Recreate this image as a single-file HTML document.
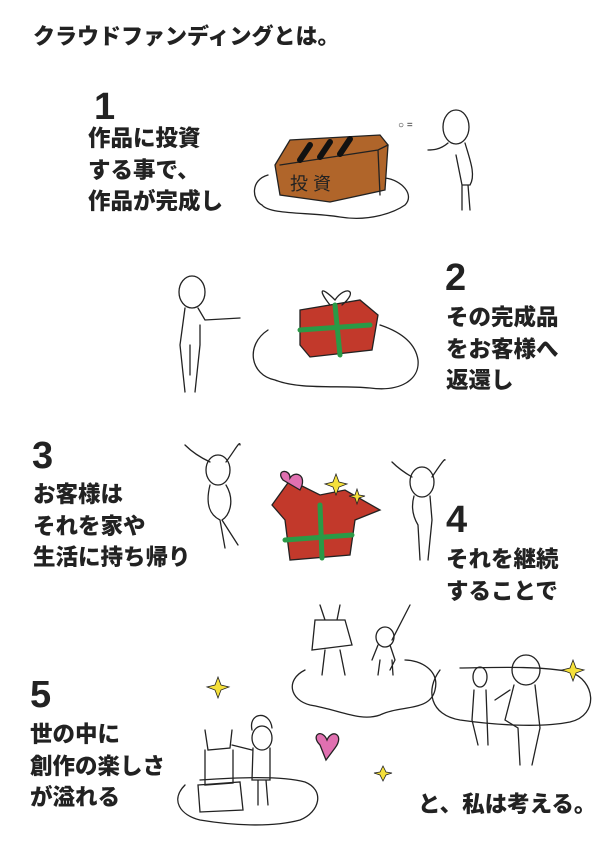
<!DOCTYPE html>
<html><head><meta charset="utf-8"><style>
body{margin:0;background:#fff;width:608px;height:859px;overflow:hidden;position:relative;font-family:"Liberation Sans","Noto Sans CJK JP",sans-serif;font-weight:bold;color:#222}
.t{position:absolute;font-size:22.5px;line-height:31.5px;white-space:nowrap;font-weight:900}
.n{position:absolute;font-size:38px;line-height:40px;font-weight:900;font-family:"Liberation Sans",sans-serif}
svg{position:absolute;left:0;top:0}
</style></head><body>
<svg width="608" height="859" fill="none" stroke="#222" stroke-width="1.3" stroke-linecap="round">
<path d="M268 175 C250 180 252 200 262 205 C270 215 310 212 340 217 C370 222 395 212 405 205 C415 195 402 180 385 178"/>
<path d="M275 165 L290 140 L380 135 L388 145 L385 190 L330 202 L280 195 Z" fill="#b0652a"/>
<path d="M280 165 L378 150 L388 145 M378 150 L380 195"/>
<path d="M300 160 l10 -15 M320 157 l10 -15 M340 154 l10 -15" stroke="#111" stroke-width="6"/>
<text x="290" y="190" font-size="18" fill="#222" stroke="none" font-weight="normal">投 資</text>
<ellipse cx="456" cy="127" rx="13" ry="17"/>
<path d="M448 143 C440 150 432 150 428 150 M465 143 C470 160 476 175 470 185 L462 185 L456 155 M462 185 L462 210 M468 185 L470 210"/>
<text x="398" y="128" font-size="10" stroke="none" fill="#222" font-weight="normal">○ =</text>
<path d="M268 330 C245 345 250 375 275 380 C300 390 340 385 370 388 C400 392 420 380 418 360 C415 340 395 330 380 325"/>
<path d="M300 310 L360 300 L378 315 L372 350 L310 357 L300 345 Z" fill="#c2392b"/>
<path d="M300 330 L370 325 M335 305 L340 355" stroke="#2a9a46" stroke-width="5"/>
<path d="M330 305 C318 290 320 285 335 300 C345 285 360 290 342 305"/>
<ellipse cx="192" cy="292" rx="13" ry="16"/>
<path d="M185 308 L180 345 L185 392 M198 308 L205 320 L240 318 M200 325 L200 345 L195 392 M190 345 L190 375"/>
<ellipse cx="218" cy="470" rx="12" ry="15"/>
<path d="M210 462 C195 455 188 448 185 445 M226 462 C235 450 240 440 240 445 M210 485 C205 505 210 515 220 520 L225 548 M226 485 C235 500 230 515 222 520 M222 520 L238 545"/>
<path d="M272 505 L290 480 L320 495 L345 490 L380 510 L355 520 L350 555 L290 560 L285 520 Z" fill="#c2392b"/>
<path d="M285 540 L352 535 M320 505 L322 558" stroke="#2a9a46" stroke-width="5"/>
<path d="M283 480 C275 470 290 468 290 478 C295 470 308 475 300 490 Z" fill="#e070b0" stroke="#222"/>
<path d="M333 482 l3 -8 l3 8 l8 2 l-8 3 l-3 8 l-3 -8 l-8 -3 Z M355 495 l2 -6 l2 6 l6 1 l-6 2 l-2 6 l-2 -6 l-6 -2Z" fill="#f5e03a" stroke-width="0.8"/>
<ellipse cx="422" cy="482" rx="12" ry="15"/>
<path d="M412 477 C400 470 395 465 392 462 M432 477 C440 465 445 458 445 460 M414 496 C410 510 415 520 418 525 L420 560 M430 496 L432 520 L428 560"/>
<path d="M305 670 C285 680 290 700 310 705 C340 710 360 722 380 715 C400 705 430 712 435 690 C440 670 420 660 405 660"/>
<path d="M320 605 L325 620 M340 605 L337 620 M315 620 L345 620 L352 645 L312 650 Z M325 650 L322 675 M340 650 L345 675"/>
<ellipse cx="385" cy="637" rx="9" ry="10"/>
<path d="M378 645 L372 660 M390 645 L395 660 L390 670 M380 660 L378 675 M392 660 L393 675 M392 640 L410 605"/>
<path d="M440 670 C425 690 430 715 460 720 C495 725 540 728 570 722 C600 715 595 680 570 672 C540 665 480 668 460 668"/>
<ellipse cx="480" cy="677" rx="7" ry="10"/>
<path d="M474 690 L472 720 L478 745 M486 690 L488 745"/>
<ellipse cx="526" cy="670" rx="14" ry="15"/>
<path d="M514 685 L505 720 L518 728 L520 765 M535 685 L540 728 L532 765 M495 700 L510 690"/>
<path d="M185 785 C170 800 180 815 200 820 C230 825 270 828 300 820 C320 812 325 790 305 782 C280 775 230 778 200 780"/>
<path d="M205 730 L208 750 L230 748 L232 730 M205 750 L205 785 L233 783 L233 750 M198 785 L240 782 L243 810 L200 812 Z"/>
<ellipse cx="262" cy="738" rx="10" ry="12"/>
<path d="M252 730 C248 712 270 710 272 728 M253 748 L252 780 L270 780 L270 748 M258 780 L258 805 M266 780 L268 805 M232 745 L252 750"/>
<path d="M320 745 C310 735 322 728 327 740 C332 728 345 735 335 748 L326 760 Z" fill="#e070b0"/>
<path d="M215 685 l3 -8 l3 8 l8 2 l-8 3 l-3 8 l-3 -8 l-8 -3Z M570 668 l3 -8 l3 8 l8 2 l-8 3 l-3 8 l-3 -8 l-8 -3Z M380 772 l3 -6 l3 6 l6 1 l-6 2 l-3 6 l-3 -6 l-6 -2Z" fill="#f5e03a" stroke-width="0.8"/>
</svg>
<div class="t" style="left:33px;top:21px;font-size:22px">クラウドファンディングとは。</div>
<div class="n" style="left:94px;top:87px">1</div>
<div class="t" style="left:88px;top:123px">作品に投資<br>する事で、<br>作品が完成し</div>
<div class="n" style="left:445px;top:258px">2</div>
<div class="t" style="left:446px;top:302px">その完成品<br>をお客様へ<br>返還し</div>
<div class="n" style="left:32px;top:436px">3</div>
<div class="t" style="left:33px;top:479px">お客様は<br>それを家や<br>生活に持ち帰り</div>
<div class="n" style="left:446px;top:500px">4</div>
<div class="t" style="left:446px;top:544px">それを継続<br>することで</div>
<div class="n" style="left:30px;top:675px">5</div>
<div class="t" style="left:30px;top:719px">世の中に<br>創作の楽しさ<br>が溢れる</div>
<div class="t" style="left:418px;top:789px">と、私は考える。</div>
</body></html>
